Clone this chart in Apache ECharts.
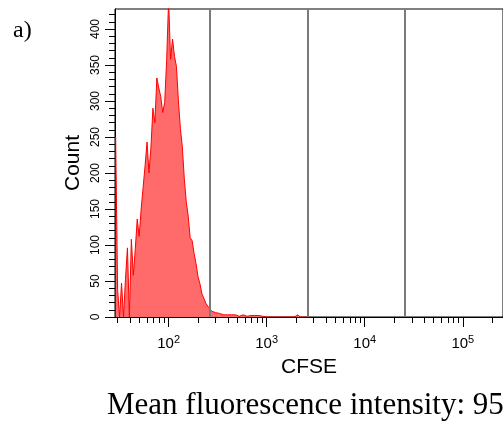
<!DOCTYPE html>
<html>
<head>
<meta charset="utf-8">
<script src="https://cdn.jsdelivr.net/npm/echarts@6/dist/echarts.min.js"></script>
<style>
html,body{margin:0;padding:0;background:#fff;}
#chart{width:503px;height:428px;}
</style>
</head>
<body>
<div id="chart"></div>
<script>
// ---- data ----
// histogram channels: log10(CFSE) of first channel and channel step (decades)
const binStartExp = 1.46;
const binStepExp = 0.02;
const counts = [
  250, 38, 0, 47, 0, 52, 96, 0, 108, 58,
  94, 136, 112, 150, 180, 210, 243, 200, 236, 290,
  270, 332, 318, 306, 284, 298, 356, 440, 358, 386,
  362, 348, 300, 262, 236, 192, 160, 140, 110, 106,
  88, 74, 56, 46, 32, 26, 19, 15, 13, 8,
  7, 6, 7, 5, 4, 3, 4, 3, 2, 3,
  2, 3, 2, 1, 2, 3, 2, 1, 2, 2,
  1, 2, 1, 2, 1, 1, 0, 0, 0, 0,
  0, 0, 0, 0, 0, 0, 0, 0, 0, 0,
  0, 0, 0, 3, 0, 0, 0, 0, 0, 0
];
const gateValues = [260, 2610, 25650];
const xMin = 28.4, xMax = 257000;
const minorXTicks = [30,40,50,60,70,80,90,200,300,400,500,600,700,800,900,
  2000,3000,4000,5000,6000,7000,8000,9000,20000,30000,40000,50000,60000,70000,80000,90000,200000];
const yLabelMax = 400, yLabelStep = 50;
const yMinorMax = 420, yMinorStep = 10;
const yAxisTitle = 'Count';
const xAxisTitle = 'CFSE';
const caption = 'Mean fluorescence intensity: 95';
const panelLabel = 'a)';

// ---- layout ----
const pxPerCount = 0.72;
const plotLeft = 115, plotBottom = 317, plotTop = 9, plotWidth = 391;
const plotH = plotBottom - plotTop;
const yMax = plotH / pxPerCount;

const histData = counts.map((c, i) => [Math.pow(10, binStartExp + binStepExp * i), c]);

const chart = echarts.init(document.getElementById('chart'), null, {renderer: 'canvas'});

const hiddenX = (gi) => ({type: 'value', gridIndex: gi, show: false, min: 0, max: 1});

chart.setOption({
  animation: false,
  backgroundColor: '#fff',
  grid: [
    {left: plotLeft, top: plotTop, width: plotWidth, height: plotH, show: true, borderColor: '#000', borderWidth: 1, backgroundColor: 'transparent'},
    {left: plotLeft, top: plotBottom - yLabelMax * pxPerCount, width: plotWidth, height: yLabelMax * pxPerCount},
    {left: plotLeft, top: plotBottom - yMinorMax * pxPerCount, width: plotWidth, height: yMinorMax * pxPerCount}
  ],
  xAxis: [
    {
      type: 'log', logBase: 10, gridIndex: 0, min: xMin, max: xMax,
      axisLine: {show: true, lineStyle: {color: '#000', width: 1}},
      axisTick: {show: true, length: 10, lineStyle: {color: '#000'}},
      splitLine: {show: false},
      axisLabel: {
        show: true, margin: 17, showMinLabel: false, showMaxLabel: false,
        formatter: (v) => '{b|10}{s|' + Math.round(Math.log10(v)) + '}',
        rich: {
          b: {fontFamily: 'Liberation Sans, Arial', fontSize: 15, color: '#000'},
          s: {fontFamily: 'Liberation Sans, Arial', fontSize: 11, color: '#000', padding: [0, 0, 9, 0]}
        }
      },
      name: xAxisTitle, nameLocation: 'middle', nameGap: 40,
      nameTextStyle: {fontFamily: 'Liberation Sans, Arial', fontSize: 21, color: '#000'}
    },
    hiddenX(1),
    hiddenX(2)
  ],
  yAxis: [
    {
      type: 'value', gridIndex: 0, min: 0, max: yMax,
      axisLine: {show: true, lineStyle: {color: '#000'}},
      axisTick: {show: false}, axisLabel: {show: false}, splitLine: {show: false},
      name: yAxisTitle, nameLocation: 'middle', nameGap: 31,
      nameTextStyle: {fontFamily: 'Liberation Sans, Arial', fontSize: 21, color: '#000'}
    },
    {
      type: 'value', gridIndex: 1, min: 0, max: yLabelMax, interval: yLabelStep,
      axisLine: {show: false},
      axisTick: {show: true, length: 10, lineStyle: {color: '#000'}},
      splitLine: {show: false},
      axisLabel: {show: true, rotate: 90, margin: 13, fontFamily: 'Liberation Sans, Arial', fontSize: 12, color: '#000'}
    },
    {
      type: 'value', gridIndex: 2, min: 0, max: yMinorMax, interval: yMinorStep,
      axisLine: {show: false},
      axisTick: {show: true, length: 6, lineStyle: {color: '#000'}},
      splitLine: {show: false}, axisLabel: {show: false}
    }
  ],
  series: [
    {
      type: 'line', xAxisIndex: 0, yAxisIndex: 0,
      data: histData, showSymbol: false, symbol: 'none',
      lineStyle: {color: '#ff0000', width: 1},
      areaStyle: {color: '#ff6b6b', opacity: 1},
      clip: true,
      markLine: {
        silent: true, symbol: 'none', label: {show: false},
        lineStyle: {color: '#7a7a7a', width: 2, type: 'solid'},
        data: gateValues.map(v => ({xAxis: v}))
      },
      z: 2
    },
    {
      type: 'custom', xAxisIndex: 0, yAxisIndex: 0,
      data: minorXTicks.map(v => [v, 0]),
      renderItem: (params, api) => {
        const p = api.coord([api.value(0), 0]);
        const x = Math.round(p[0]) + 0.5;
        return {type: 'line', shape: {x1: x, y1: p[1], x2: x, y2: p[1] + 6}, style: {stroke: '#000', lineWidth: 1}};
      },
      silent: true, z: 3
    }
  ],
  graphic: [
    {type: 'text', left: 107, top: 390, style: {text: caption, font: '31px "Liberation Serif", "Times New Roman", serif', fill: '#000'}},
    {type: 'text', left: 13, top: 19, style: {text: panelLabel, font: '24px "Liberation Serif", "Times New Roman", serif', fill: '#000'}}
  ]
});
</script>
</body>
</html>
